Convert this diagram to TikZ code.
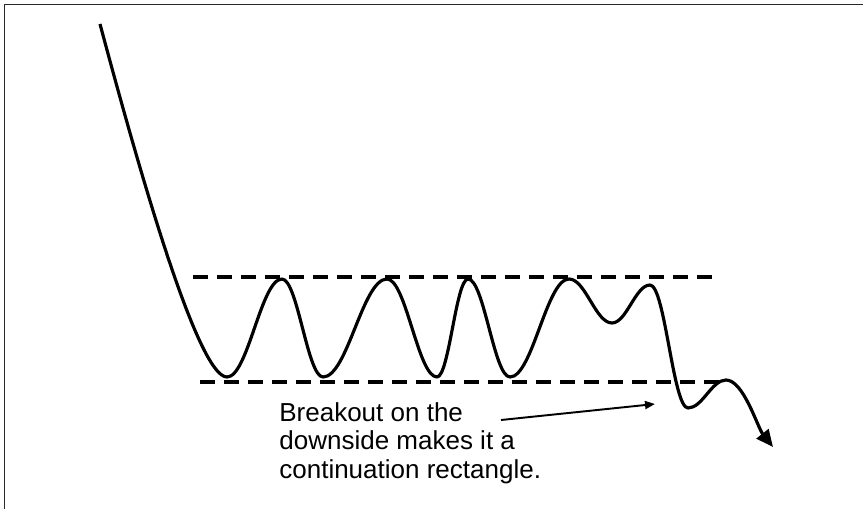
\documentclass[tikz,border=0pt]{standalone}
\usepackage{fontspec}
\setmainfont{Liberation Sans}
\usepackage{tikz}
\usetikzlibrary{arrows.meta,positioning}
\definecolor{framegray}{RGB}{40,40,40}

\begin{document}
\begin{tikzpicture}[
  frame/.style={draw=framegray,line width=0.75pt},
  level/.style={draw=black,line width=1.8pt,dash pattern=on 0.3cm off 0.18cm},
  price/.style={draw=black,line width=1.8pt,line join=round,
                -{Triangle[length=0.34cm,width=0.3cm]}},
  note/.style={font=\fontsize{14.8}{16}\selectfont,align=left,inner sep=0pt},
  arrow/.style={-{Triangle[length=0.2cm,width=0.16cm]},line width=1.1pt}
]
\useasboundingbox (0,0) rectangle (17.26,10.18);
\draw[frame] (0.094,0) -- (0.094,10.086) -- (17.26,10.086);

\draw[level] (3.86,4.64) -- (14.40,4.64);
\draw[level] (4.00,2.54) -- (14.54,2.54);

\draw[price] (2.00,9.70)
  .. controls (2.75,6.9) and (3.95,2.64) .. (4.54,2.64)
  .. controls +(0.42,0) and +(-0.42,0) .. (5.64,4.60)
  .. controls +(0.31,0) and +(-0.31,0) .. (6.46,2.64)
  .. controls +(0.49,0) and +(-0.49,0) .. (7.74,4.60)
  .. controls +(0.38,0) and +(-0.38,0) .. (8.74,2.64)
  .. controls +(0.24,0) and +(-0.24,0) .. (9.36,4.60)
  .. controls +(0.32,0) and +(-0.32,0) .. (10.20,2.64)
  .. controls +(0.45,0) and +(-0.45,0) .. (11.38,4.60)
  .. controls +(0.33,0) and +(-0.33,0) .. (12.24,3.72)
  .. controls +(0.29,0) and +(-0.29,0) .. (13.00,4.48)
  .. controls +(0.30,0) and +(-0.30,0) .. (13.76,2.02)
  .. controls +(0.29,0) and +(-0.29,0) .. (14.52,2.58)
  .. controls +(0.35,0) and +(-0.31,0.39) .. (15.46,1.24);

\node[note,anchor=base west] (breakout) at (5.58,0.62)
  {Breakout on the\\downside makes it a\\continuation rectangle.};
\coordinate (tail) at (10.02,1.78);
\coordinate (head) at (13.10,2.10);
\draw[arrow] (tail) -- (head);
\end{tikzpicture}
\end{document}
